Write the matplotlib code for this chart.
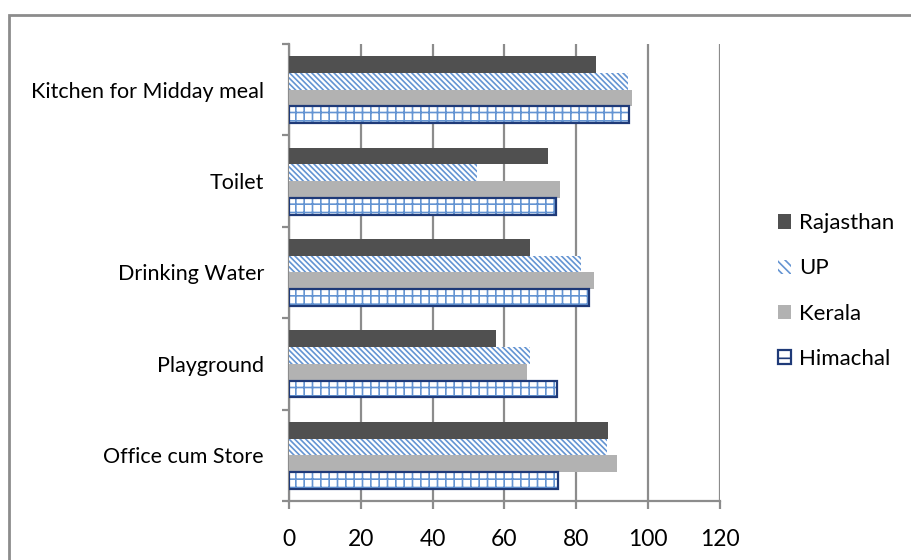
import matplotlib
matplotlib.use("Agg")
import matplotlib.pyplot as plt
from matplotlib.patches import Patch, Rectangle
import numpy as np

categories = ["Office cum Store", "Playground", "Drinking Water", "Toilet", "Kitchen for Midday meal"]
series_names = ["Rajasthan", "UP", "Kerala", "Himachal"]
rajasthan = [88.9, 57.7, 67.0, 72.0, 85.5]
up = [88.5, 67.0, 81.3, 52.4, 94.4]
kerala = [91.2, 66.4, 85.0, 75.5, 95.5]
himachal = [74.9, 74.5, 83.6, 74.3, 94.6]
x_ticks = [0, 20, 40, 60, 80, 100, 120]

plt.rcParams['font.family'] = ['Lato', 'DejaVu Sans']
plt.rcParams['hatch.linewidth'] = 1.2

BS = chr(92)
diag = BS * 6
grid = "++"

W, H = 912, 560
fig = plt.figure(figsize=(W / 100, H / 100), dpi=100)
ax = fig.add_axes([289 / W, 1 - 501 / H, (720 - 289) / W, (501 - 44) / H])

y = np.arange(len(categories))
h = 0.183
dark = "#505050"
light = "#b2b2b2"
blue = "#6494d2"
navy = "#1f3a78"

ax.barh(y + 1.5 * h, rajasthan, height=h, color=dark, zorder=3, linewidth=0)
ax.barh(y + 0.5 * h, up, height=h, color="white", edgecolor=blue, hatch=diag, linewidth=0, zorder=3)
ax.barh(y - 0.5 * h, kerala, height=h, color=light, zorder=3, linewidth=0)
ax.barh(y - 1.5 * h, himachal, height=h, color="white", edgecolor=blue, hatch=grid, linewidth=0, zorder=3)
ax.barh(y - 1.5 * h, himachal, height=h, facecolor="none", edgecolor=navy, linewidth=1.6, zorder=4)

ax.set_xlim(0, 120)
ax.set_ylim(-0.5, len(categories) - 0.5)
ax.set_xticks(x_ticks)
ax.set_xticklabels([str(t) for t in x_ticks])
ax.set_yticks(y)
ax.set_yticklabels(categories)
ax.set_yticks(np.arange(len(categories) + 1) - 0.5, minor=True)

ax.grid(axis="x", color="#8c8c8c", linewidth=1.6, zorder=0)
for s in ["top", "right"]:
    ax.spines[s].set_visible(False)
for s in ["left", "bottom"]:
    ax.spines[s].set_color("#8c8c8c")
    ax.spines[s].set_linewidth(1.6)
ax.tick_params(axis="y", which="major", length=0, pad=18, labelsize=15.5, colors="#000000")
ax.tick_params(axis="y", which="minor", length=5, width=1.6, color="#8c8c8c")
ax.tick_params(axis="x", which="major", length=6, width=1.6, color="#8c8c8c", pad=14, labelsize=16.5)

handles = [
    Patch(facecolor=dark, edgecolor="none"),
    Patch(facecolor="white", edgecolor=blue, hatch=BS * 4, linewidth=0),
    Patch(facecolor=light, edgecolor="none"),
    Patch(facecolor="white", edgecolor=navy, hatch="+", linewidth=1.6),
]
leg = fig.legend(handles, series_names, loc="center left", bbox_to_anchor=(758 / W, 1 - 291 / H),
                 frameon=False, fontsize=16, handlelength=0.6, handleheight=0.6,
                 handletextpad=0.35, labelspacing=1.13)

fig.patches.append(Rectangle((9 / W, -0.1), 1.2, 1 - 15 / H + 0.1, transform=fig.transFigure,
                             facecolor="none", edgecolor="#8c8c8c", linewidth=2, zorder=10))

fig.savefig("out.png", dpi=100)
